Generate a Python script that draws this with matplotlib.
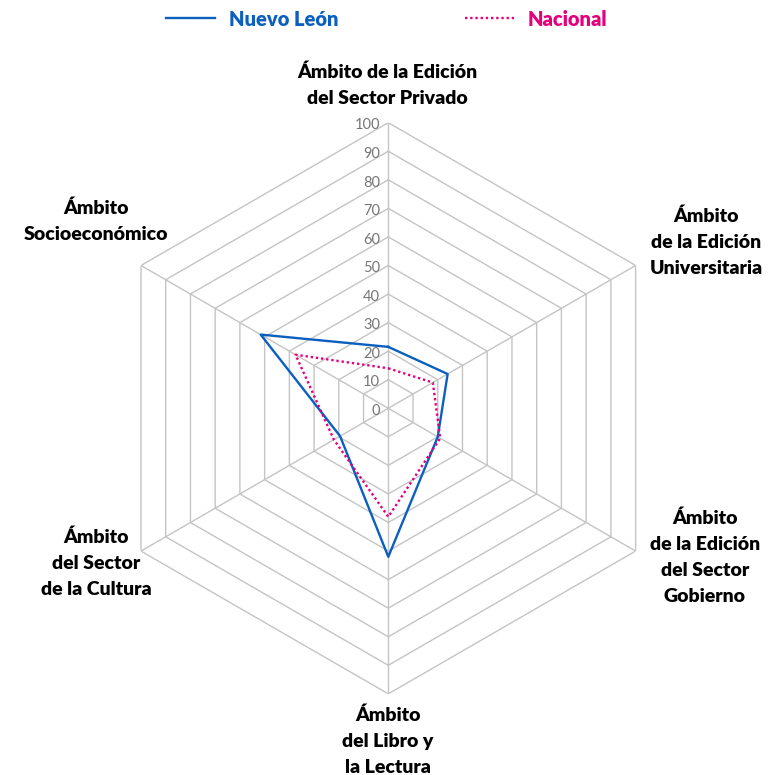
import numpy as np
import matplotlib
matplotlib.use("Agg")
import matplotlib.pyplot as plt
from matplotlib.transforms import offset_copy

plt.rcParams['font.family'] = ['Lato', 'DejaVu Sans']

# Ámbitos, clockwise from the top
categorias = [
    "Ámbito de la Edición\ndel Sector Privado",
    "Ámbito\nde la Edición\nUniversitaria",
    "Ámbito\nde la Edición\ndel Sector\nGobierno",
    "Ámbito\ndel Libro y\nla Lectura",
    "Ámbito\ndel Sector\nde la Cultura",
    "Ámbito\nSocioeconómico",
]
nuevo_leon = [21.5, 24, 20, 52, 19.5, 51.6]
nacional = [14, 18, 21, 38, 22, 37.5]
niveles = [0, 10, 20, 30, 40, 50, 60, 70, 80, 90, 100]

AZUL = "#0A5FBF"
ROSA = "#E4007C"
GRIS = "#C4C4C4"

n = len(categorias)
angulos = np.linspace(0, 2 * np.pi, n, endpoint=False)
cerrado = np.append(angulos, angulos[0])

fig = plt.figure(figsize=(7.83, 7.75), dpi=100)
ax = fig.add_axes([0.1311, 0.1047, 0.7296, 0.737], projection="polar")
ax.set_theta_offset(np.pi / 2)
ax.set_theta_direction(-1)
ax.set_ylim(0, 100)
ax.set_axis_off()

# hexagonal grid and spokes
for v in niveles[1:]:
    ax.plot(cerrado, [v] * (n + 1), color=GRIS, lw=1.0, zorder=1)
for a in angulos:
    ax.plot([a, a], [0, 100], color=GRIS, lw=1.0, zorder=1)

# scale labels along the top spoke
desplaza = offset_copy(ax.transData, fig=fig, x=-6, y=-2, units="points")
for v in niveles:
    ax.text(0, v, str(v), transform=desplaza, ha="right", va="center",
            fontsize=10.5, color="#767676")

ax.plot(cerrado, nuevo_leon + nuevo_leon[:1], color=AZUL, lw=1.7,
        label="Nuevo León", zorder=3)
ax.plot(cerrado, nacional + nacional[:1], color=ROSA, lw=1.7,
        linestyle=(0, (1, 1.2)), label="Nacional", zorder=3)

# category labels
posiciones = [
    (387, 85), (706, 242), (705, 557), (388, 741), (96, 563), (96, 221),
]
W, H = 783, 775
for texto, (px, py) in zip(categorias, posiciones):
    fig.text(px / W, 1 - py / H, texto, ha="center", va="center",
             fontsize=14, fontweight="heavy", color="black", linespacing=1.65)

leg = fig.legend(loc="center", bbox_to_anchor=(0.494, 1 - 19 / H), ncol=2,
                 frameon=False, handlelength=2.4, handletextpad=0.7,
                 columnspacing=6.3,
                 prop={"size": 14.5, "weight": "heavy"})
for t, c in zip(leg.get_texts(), [AZUL, ROSA]):
    t.set_color(c)

fig.savefig("out.png", dpi=100)
